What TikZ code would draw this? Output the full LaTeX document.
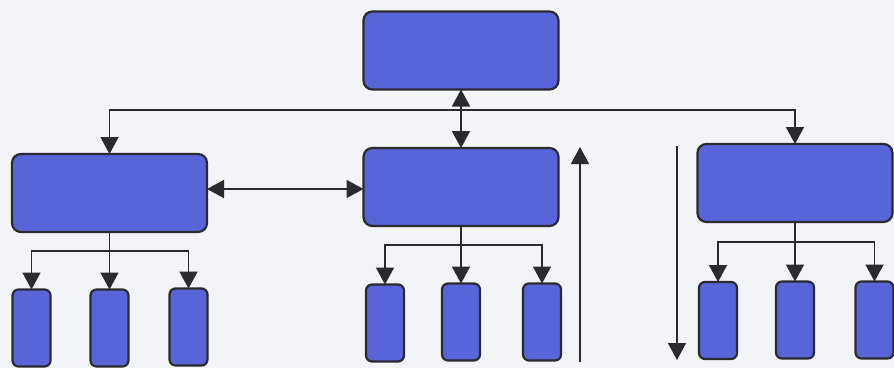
\documentclass[tikz,border=0pt]{standalone}
\usetikzlibrary{arrows.meta}
\definecolor{bg}{HTML}{F3F4F7}
\definecolor{boxfill}{HTML}{5A64D9}
\definecolor{edge}{HTML}{2A2A30}
\begin{document}
\begin{tikzpicture}[x=1pt,y=-1pt,
  bigbox/.style={draw=edge,fill=boxfill,line width=2.2pt,rounded corners=9pt,minimum width=195pt,minimum height=78pt,inner sep=0pt,outer sep=0pt},
  smallbox/.style={draw=edge,fill=boxfill,line width=2.2pt,rounded corners=6pt,minimum width=38pt,minimum height=77pt,inner sep=0pt,outer sep=0pt},
  conn/.style={draw=edge,line width=1.6pt},
  tip/.tip={Triangle[length=17pt,width=18pt]},
  arr/.style={conn,-tip},
  dbl/.style={conn,tip-tip}]
\fill[bg] (0,0) rectangle (894,368);
\useasboundingbox (0,0) rectangle (894,368);
% main boxes
\node[bigbox] (T) at (461,50.5) {};
\node[bigbox] (L) at (109.5,193) {};
\node[bigbox] (M) at (461,187) {};
\node[bigbox] (R) at (795,183) {};
% children
\node[smallbox] (L1) at (31.5,328) {};
\node[smallbox] (L2) at (109.5,328) {};
\node[smallbox] (L3) at (188.5,327) {};
\node[smallbox] (M1) at (385,323) {};
\node[smallbox] (M2) at (461,322) {};
\node[smallbox] (M3) at (542,322) {};
\node[smallbox] (R1) at (718,320.5) {};
\node[smallbox] (R2) at (795,320) {};
\node[smallbox] (R3) at (874.5,320) {};
% hubs
\coordinate (hub) at (461,110);
\coordinate (Lb) at (109.5,251);
\coordinate (Mb) at (461,245);
\coordinate (Rb) at (795,242);
% top level
\draw[dbl] (T.south) -- (M.north);
\draw[arr] (hub) -| (L.north);
\draw[arr] (hub) -| (R.north);
\draw[dbl] (L.east |- 0,189) -- (M.west |- 0,189);
% left group
\draw[arr] (L.south) -- (L2.north);
\draw[arr] (Lb) -| (L1.north);
\draw[arr] (Lb) -| (L3.north);
% middle group
\draw[arr] (M.south) -- (M2.north);
\draw[arr] (Mb) -| (M1.north);
\draw[arr] (Mb) -| (M3.north);
% right group
\draw[arr] (R.south) -- (R2.north);
\draw[arr] (Rb) -| (R1.north);
\draw[arr] (Rb) -| (R3.north);
% free arrows
\coordinate (upS) at (580,362);
\coordinate (upE) at (580,147);
\coordinate (dnS) at (677,146);
\coordinate (dnE) at (677,360);
\draw[arr] (upS) -- (upE);
\draw[arr] (dnS) -- (dnE);
\end{tikzpicture}
\end{document}
